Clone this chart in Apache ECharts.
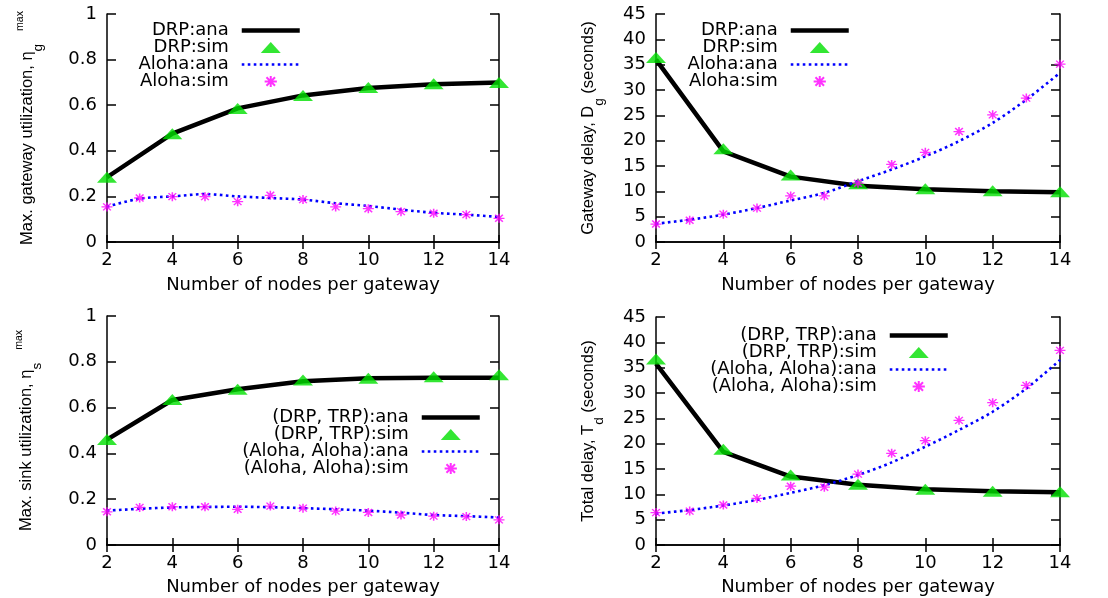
<!DOCTYPE html>
<html>
<head>
<meta charset="utf-8">
<script src="https://cdn.jsdelivr.net/npm/echarts@6/dist/echarts.min.js"></script>
<style>
html,body{margin:0;padding:0;background:#fff;}
#c{width:1108px;height:598px;}
</style>
</head>
<body>
<div id="c"></div>
<script>
// ---- data ----
var xEven = [2, 4, 6, 8, 10, 12, 14];
var xAll = [2, 3, 4, 5, 6, 7, 8, 9, 10, 11, 12, 13, 14];

var drpGwUtilAna = [0.284, 0.475, 0.586, 0.643, 0.675, 0.692, 0.700];
var drpGwUtilSim = [0.284, 0.475, 0.586, 0.643, 0.678, 0.694, 0.700];
var alohaGwUtilAna = [0.155, 0.19, 0.20, 0.21, 0.20, 0.193, 0.186, 0.17, 0.158, 0.142, 0.128, 0.12, 0.11];
var alohaGwUtilSim = [0.154, 0.193, 0.199, 0.199, 0.177, 0.205, 0.186, 0.154, 0.146, 0.133, 0.126, 0.12, 0.104];

var drpGwDelayAna = [36.0, 17.9, 12.9, 11.1, 10.4, 10.0, 9.8];
var drpGwDelaySim = [36.4, 18.4, 13.2, 11.5, 10.5, 10.1, 9.9];
var alohaGwDelayAna = [3.6, 4.4, 5.4, 6.7, 8.2, 9.7, 12.0, 14.3, 16.9, 19.9, 23.5, 28.1, 33.4];
var alohaGwDelaySim = [3.55, 4.3, 5.5, 6.7, 9.1, 9.1, 11.6, 15.3, 17.7, 21.8, 25.1, 28.4, 35.1];

var drpSinkUtilAna = [0.46, 0.633, 0.68, 0.715, 0.728, 0.73, 0.73];
var drpSinkUtilSim = [0.461, 0.635, 0.68, 0.72, 0.728, 0.735, 0.743];
var alohaSinkUtilAna = [0.15, 0.158, 0.164, 0.166, 0.167, 0.165, 0.161, 0.156, 0.15, 0.141, 0.131, 0.126, 0.12];
var alohaSinkUtilSim = [0.145, 0.164, 0.167, 0.167, 0.156, 0.17, 0.161, 0.148, 0.142, 0.131, 0.126, 0.124, 0.11];

var drpTotDelayAna = [35.8, 18.4, 13.5, 11.9, 11.0, 10.6, 10.4];
var drpTotDelaySim = [36.7, 18.9, 13.8, 12.0, 11.0, 10.6, 10.5];
var alohaTotDelayAna = [6.2, 6.9, 7.8, 8.9, 10.3, 11.8, 13.8, 16.3, 19.4, 22.7, 26.3, 30.9, 36.5];
var alohaTotDelaySim = [6.4, 6.7, 7.9, 9.2, 11.6, 11.4, 14.0, 18.1, 20.6, 24.6, 28.1, 31.5, 38.4];

var namesTop = ['DRP:ana', 'DRP:sim', 'Aloha:ana', 'Aloha:sim'];
var namesBottom = ['(DRP, TRP):ana', '(DRP, TRP):sim', '(Aloha, Aloha):ana', '(Aloha, Aloha):sim'];
var xTitle = 'Number of nodes per gateway';
var yTitles = [
  '{t|Max. gateway utilization, η}{sub|g}{sup|max}',
  '{t|Gateway delay, D}{sub|g}{t| (seconds)}',
  '{t|Max. sink utilization, η}{sub|s}{sup|max}',
  '{t|Total delay, T}{sub|d}{t| (seconds)}'
];

// ---- styling / layout ----
var FONT = 'DejaVu Sans';
var grids = [
  {left: 107, top: 14, width: 392, height: 228},
  {left: 656, top: 14, width: 404, height: 228},
  {left: 107, top: 316, width: 392, height: 229},
  {left: 656, top: 317, width: 404, height: 228}
];
var yMax = [1, 45, 1, 45];
var yInt = [0.2, 5, 0.2, 5];
var yNameGap = [61, 49, 62, 49];
var legendPos = [
  {right: 806, top: 21.5},
  {right: 257, top: 21.5},
  {right: 626, top: 408.5},
  {right: 158, top: 326.5}
];
var TRI = 'path://M0,11 L10,0 L20,11 Z';
var STAR = 'path://M0,4.5 L10,4.5 M5,0 L5,9 M1.5,1 L8.5,8 M1.5,8 L8.5,1';

var panels = [
  {names: namesTop, ana1: drpGwUtilAna, sim1: drpGwUtilSim, ana2: alohaGwUtilAna, sim2: alohaGwUtilSim},
  {names: namesTop, ana1: drpGwDelayAna, sim1: drpGwDelaySim, ana2: alohaGwDelayAna, sim2: alohaGwDelaySim},
  {names: namesBottom, ana1: drpSinkUtilAna, sim1: drpSinkUtilSim, ana2: alohaSinkUtilAna, sim2: alohaSinkUtilSim},
  {names: namesBottom, ana1: drpTotDelayAna, sim1: drpTotDelaySim, ana2: alohaTotDelayAna, sim2: alohaTotDelaySim}
];

function zip(xs, ys) { return xs.map(function (x, i) { return [x, ys[i]]; }); }

var lineAxis = {lineStyle: {color: '#000', width: 1.5}};
var xAxes = [], yAxes = [], series = [], legends = [];
var richBase = {
  t: {fontFamily: 'Liberation Sans', fontSize: 16.5, color: '#000', lineHeight: 38, verticalAlign: 'middle'},
  sub: {fontFamily: 'Liberation Sans', fontSize: 13.5, color: '#000', lineHeight: 38, verticalAlign: 'bottom', padding: [0, 0, 1, 0]},
  sup: {fontFamily: 'Liberation Sans', fontSize: 10.5, color: '#000', lineHeight: 38, verticalAlign: 'top', padding: [7, 0, 0, 13]}
};
grids.forEach(function (g, i) {
  xAxes.push({
    type: 'value', gridIndex: i, min: 2, max: 14, interval: 2, position: 'bottom',
    axisLine: lineAxis,
    axisTick: {inside: true, length: 7, lineStyle: {color: '#000', width: 1.5}},
    axisLabel: {color: '#000', fontFamily: FONT, fontSize: 18, margin: 9, showMinLabel: true, showMaxLabel: true},
    splitLine: {show: false},
    name: xTitle, nameLocation: 'middle', nameGap: i < 2 ? 34 : 33,
    nameTextStyle: {color: '#000', fontFamily: FONT, fontSize: 18}
  });
  xAxes.push({
    type: 'value', gridIndex: i, min: 2, max: 14, interval: 2, position: 'top',
    axisLine: lineAxis,
    axisTick: {inside: true, length: 7, lineStyle: {color: '#000', width: 1.5}},
    axisLabel: {show: false}, splitLine: {show: false}
  });
  yAxes.push({
    type: 'value', gridIndex: i, min: 0, max: yMax[i], interval: yInt[i], position: 'left',
    axisLine: Object.assign({show: true}, lineAxis),
    axisTick: {show: true, inside: true, length: 9, lineStyle: {color: '#000', width: 1.5}},
    axisLabel: {color: '#000', fontFamily: FONT, fontSize: 18, margin: 10, showMinLabel: true, showMaxLabel: true},
    splitLine: {show: false},
    name: yTitles[i], nameLocation: 'middle', nameGap: yNameGap[i], nameRotate: 90,
    nameTextStyle: {rich: richBase}
  });
  yAxes.push({
    type: 'value', gridIndex: i, min: 0, max: yMax[i], interval: yInt[i], position: 'right',
    axisLine: Object.assign({show: true}, lineAxis),
    axisTick: {show: true, inside: true, length: 9, lineStyle: {color: '#000', width: 1.5}},
    axisLabel: {show: false}, splitLine: {show: false}
  });

  var p = panels[i];
  var xi = i * 2, yi = i * 2;
  series.push({
    type: 'line', name: p.names[0], xAxisIndex: xi, yAxisIndex: yi,
    data: zip(xEven, p.ana1), symbol: 'none', lineStyle: {color: '#000', width: 4.5},
    itemStyle: {color: '#000'}, z: 2, animation: false
  });
  series.push({
    type: 'scatter', name: p.names[1], xAxisIndex: xi, yAxisIndex: yi,
    data: zip(xEven, p.sim1), symbol: TRI, symbolSize: [20, 11],
    itemStyle: {color: '#00e000'}, z: 3, animation: false
  });
  series.push({
    type: 'line', name: p.names[2], xAxisIndex: xi, yAxisIndex: yi,
    data: zip(xAll, p.ana2), symbol: 'none', smooth: 0.3,
    lineStyle: {color: '#0000ff', width: 2.6, type: [2.6, 3.4]},
    itemStyle: {color: '#0000ff'}, z: 4, animation: false
  });
  series.push({
    type: 'scatter', name: p.names[3], xAxisIndex: xi, yAxisIndex: yi,
    data: zip(xAll, p.sim2), symbol: STAR, symbolSize: [11, 9],
    itemStyle: {color: '#ff00ff', borderColor: '#ff00ff', borderWidth: 1.4}, z: 5, animation: false
  });

  legends.push({
    orient: 'vertical', align: 'right', right: legendPos[i].right, top: legendPos[i].top,
    padding: 0, itemGap: -1, itemWidth: 58, itemHeight: 11,
    data: [
      {name: p.names[0], itemStyle: {opacity: 0}},
      {name: p.names[1]},
      {name: p.names[2], itemStyle: {opacity: 0}},
      {name: p.names[3]}
    ],
    selectedMode: false,
    lineStyle: {width: 'inherit'},
    textStyle: {fontFamily: FONT, fontSize: 18, color: '#000', lineHeight: 17, padding: [0, 8, 0, 0]}
  });
});

var chart = echarts.init(document.getElementById('c'), null, {renderer: 'canvas'});
chart.setOption({
  animation: false,
  backgroundColor: '#fff',
  grid: grids,
  xAxis: xAxes,
  yAxis: yAxes,
  legend: legends,
  series: series
});
</script>
</body>
</html>
